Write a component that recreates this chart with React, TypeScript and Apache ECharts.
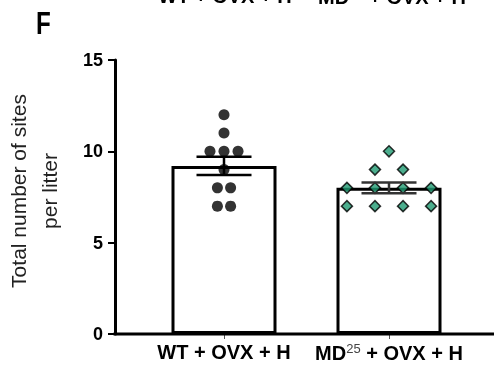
import React, { useEffect, useRef } from "react";
import * as echarts from "echarts";

const categories = ["WT + OVX + H", "MD25 + OVX + H"];
const means = [9.2, 8.0];
const sems = [0.5, 0.3];
const yTicks = [0, 5, 10, 15];
// individual litters: [jitter (fraction of band), value]
const wtPoints: [number, number][] = [
  [0, 12], [0, 11], [-0.085, 10], [0, 10], [0.085, 10], [0, 9],
  [-0.04, 8], [0.04, 8], [-0.04, 7], [0.04, 7],
];
const mdPoints: [number, number][] = [
  [0, 10], [-0.085, 9], [0.085, 9],
  [-0.255, 8], [-0.085, 8], [0.085, 8], [0.255, 8],
  [-0.255, 7], [-0.085, 7], [0.085, 7], [0.255, 7],
];

const FONT = "'Liberation Sans', Arial, sans-serif";

export default function App() {
  const ref = useRef<HTMLDivElement>(null);
  useEffect(() => {
    if (!ref.current) return;
    const chart = echarts.init(ref.current, null, { renderer: "svg" });
    const labelRich = {
      b: { fontFamily: FONT, fontWeight: "bold", fontSize: 20, color: "#000" },
      sup: { fontFamily: FONT, fontWeight: "normal", fontSize: 13, color: "#444", verticalAlign: "top", padding: [0, 0, 8, 0] },
    };
    const fmt = (v: string) =>
      v.startsWith("MD25") ? "{b|MD}{sup|25}{b|" + v.slice(4) + "}" : "{b|" + v + "}";
    chart.setOption({
      animation: false,
      grid: { left: 141.5, right: 22.5, top: 60, bottom: 37, containLabel: false, outerBoundsMode: "none" },
      xAxis: [
        {
          type: "category",
          data: categories,
          axisLine: { show: false },
          axisTick: { show: true, alignWithLabel: true, length: 5, lineStyle: { color: "#555", width: 1 } },
          axisLabel: { formatter: fmt, rich: labelRich, margin: 8, interval: 0 },
        },
        { type: "value", min: -0.5, max: 1.5, show: false },
      ],
      yAxis: {
        type: "value",
        min: 0,
        max: 15,
        interval: 5,
        offset: 26.5,
        name: "Total number of sites\nper litter",
        nameLocation: "middle",
        nameGap: 50,
        nameTextStyle: { fontFamily: FONT, fontSize: 21, color: "#222", lineHeight: 31, padding: [0, 0, 0, 12] },
        splitLine: { show: false },
        axisLine: { show: true, onZero: false, lineStyle: { color: "#000", width: 3 } },
        axisTick: { show: true, length: 7, lineStyle: { color: "#000", width: 2 } },
        axisLabel: {
          fontFamily: FONT, fontWeight: "bold", fontSize: 18, color: "#000", margin: 12,
          formatter: (v: number) => (yTicks.includes(v) ? String(v) : ""),
        },
      },
      graphic: [
        { type: "text", x: 36, y: 8, scaleX: 0.78, style: { text: "F", font: "bold 31px 'Liberation Sans', Arial, sans-serif", fill: "#000" } },
        { type: "line", shape: { x1: 113.5, y1: 334, x2: 494, y2: 334 }, style: { stroke: "#000", lineWidth: 3 }, z: 10 },
        {
          type: "text", x: 225, y: -14,
          style: { text: "{b|WT + OVX + H}", rich: labelRich, align: "center" },
        },
        {
          type: "text", x: 392, y: -14,
          style: { text: "{b|MD}{sup|25}{b| + OVX + H}", rich: labelRich, align: "center" },
        },
      ],
      series: [
        {
          type: "bar",
          data: means,
          barWidth: 105,
          itemStyle: { color: "#fff", borderColor: "#000", borderWidth: 3 },
          z: 2,
        },
        {
          type: "scatter",
          xAxisIndex: 1,
          data: wtPoints.map(([j, v]) => [0 + j, v]),
          symbol: "circle",
          symbolSize: 11,
          itemStyle: { color: "#000" },
          z: 3,
        },
        {
          type: "scatter",
          xAxisIndex: 1,
          data: mdPoints.map(([j, v]) => [1 + j, v]),
          symbol: "diamond",
          symbolSize: 11,
          itemStyle: { color: "#1f9a72", borderColor: "#000", borderWidth: 1.5 },
          z: 3,
        },
        {
          type: "custom",
          data: means.map((m, i) => [i, m, sems[i]]),
          z: 4,
          renderItem: (params: any, api: any) => {
            const i = api.value(0);
            const m = api.value(1);
            const s = api.value(2);
            const top = api.coord([i, m + s]);
            const bot = api.coord([i, m - s]);
            const hw = 27.5;
            const st = { stroke: i === 0 ? "#000" : "#333", lineWidth: 2.5 };
            return {
              type: "group",
              children: [
                { type: "line", shape: { x1: top[0], y1: top[1], x2: bot[0], y2: bot[1] }, style: st },
                { type: "line", shape: { x1: top[0] - hw, y1: top[1], x2: top[0] + hw, y2: top[1] }, style: st },
                { type: "line", shape: { x1: bot[0] - hw, y1: bot[1], x2: bot[0] + hw, y2: bot[1] }, style: st },
              ],
            };
          },
        },
      ],
    });
    return () => chart.dispose();
  }, []);
  return <div ref={ref} style={{ width: 494, height: 371, position: "fixed", left: 0, top: 0 }} />;
}
